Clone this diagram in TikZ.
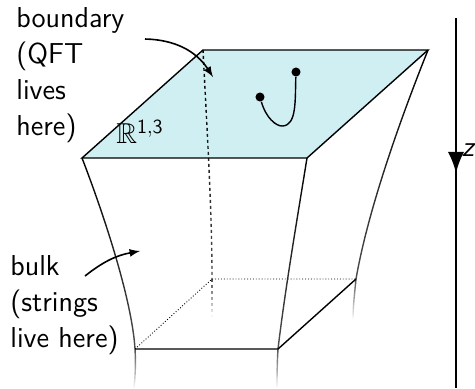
\documentclass[tikz,border=0pt]{standalone}
\usepackage{amssymb}
\usetikzlibrary{decorations.markings,fadings}
\tikzfading[name=sidefade, top color=transparent!0, bottom color=transparent!30]
\tikzfading[name=tailfade, top color=transparent!30, bottom color=transparent!100]
\definecolor{planecolor}{RGB}{207,239,242}
\tikzset{
  edge/.style={line width=0.7pt},
  backedge/.style={line width=0.45pt, densely dotted},
  depthedge/.style={line width=0.7pt, dash pattern=on 1.5pt off 1.5pt},
  side/.style={line width=0.7pt, path fading=sidefade},
  tail/.style={line width=0.7pt, path fading=tailfade},
  callout/.style={line width=0.8pt, -latex},
  textlabel/.style={anchor=north west, inner sep=0pt, align=left, font=\fontsize{14.4}{18}\selectfont\sffamily},
  enddot/.style={circle, fill=black, inner sep=1.6pt},
  midarrow/.style={
    decoration={
      markings,
      mark=at position 0.42 with {\arrow[scale=2.2]{latex}}
    },
    postaction={decorate}
  }
}
\begin{document}
\begin{tikzpicture}[x=0.5pt, y=-0.5pt]
    \useasboundingbox (0,0) rectangle (475,388);
    % Corners of the boundary plane
    \coordinate (A) at (82,158);
    \coordinate (B) at (307,158);
    \coordinate (C) at (428,50);
    \coordinate (D) at (203,50);
    % Corners of the lower slice
    \coordinate (E) at (135,349);
    \coordinate (F) at (278,349);
    \coordinate (G) at (356,279);
    \coordinate (H) at (212,279);
    % Free ends
    \coordinate (Atail) at (134,388);
    \coordinate (Btail) at (277,388);
    \coordinate (Ctail) at (353,319);
    \coordinate (Dtail) at (212,317);
    \coordinate (Ztop) at (456,18);
    \coordinate (Zbottom) at (456,388);

    % Boundary plane
    \fill[planecolor] (A) -- (B) -- (C) -- (D) -- cycle;
    \node[font=\fontsize{14.4}{18}\selectfont] (Rlabel) at (140,132) {$\mathbb{R}^{\mathsf{1,3}}$};

    % Sides going down into the bulk
    \draw[side] (A) .. controls (104,215) and (132,300) .. (E);
    \draw[tail] (E) .. controls (136,365) and (135,378) .. (Atail);
    \draw[side] (B) .. controls (297,220) and (285,290) .. (F);
    \draw[tail] (F) .. controls (277,365) and (277,378) .. (Btail);
    \draw[side] (C) .. controls (400,120) and (368,210) .. (G);
    \draw[tail] (G) .. controls (355,290) and (353,305) .. (Ctail);
    \draw[depthedge, path fading=sidefade] (D) .. controls (207,130) and (212,210) .. (H);
    \draw[depthedge, path fading=tailfade] (H) -- (Dtail);

    % Edges of the plane
    \draw[edge] (A) -- (B) -- (C) -- (D) -- cycle;

    % Lower slice
    \draw[backedge] (E) -- (H) -- (G);
    \draw[edge] (E) -- (F) -- (G);

    % String ending on the boundary
    \node[enddot] (S1) at (260,97) {};
    \node[enddot] (S2) at (296,72) {};
    \draw[edge] (S1) .. controls (266,118) and (276,126) .. (282,126) .. controls (297,126) and (295,100) .. (S2);

    % Labels
    \node[textlabel] (boundary) at (16,7) {boundary\\(QFT\\lives\\here)};
    \node[textlabel] (bulk) at (10,255) {bulk\\(strings\\live here)};
    \coordinate (boundarystart) at (145,39);
    \coordinate (boundaryend) at (213,77);
    \coordinate (bulkstart) at (85,276);
    \coordinate (bulkend) at (140,251);
    \draw[callout] (boundarystart) to[bend left=28] (boundaryend);
    \draw[callout] (bulkstart) to[bend left=14] (bulkend);

    % Depth axis
    \draw[edge, midarrow] (Ztop) -- (Zbottom);
    \node (zlabel) at (468,150) {\fontsize{14.4}{18}\selectfont\sffamily\slshape z};
\end{tikzpicture}
\end{document}
